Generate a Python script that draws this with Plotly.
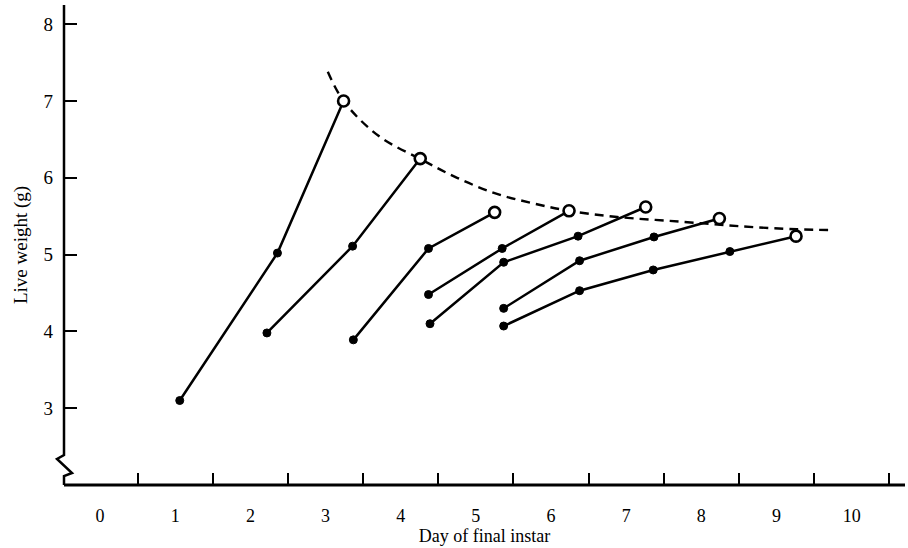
import plotly.graph_objects as go

# ---- data ----
s1_day = [1.06, 2.36, 3.24]
s1_wt = [3.10, 5.02, 7.00]
s2_day = [2.22, 3.36, 4.26]
s2_wt = [3.98, 5.11, 6.25]
s3_day = [3.37, 4.37, 5.25]
s3_wt = [3.89, 5.08, 5.55]
s4_day = [4.37, 5.35, 6.24]
s4_wt = [4.48, 5.08, 5.57]
s5_day = [4.39, 5.37, 6.36, 7.26]
s5_wt = [4.10, 4.90, 5.24, 5.62]
s6_day = [5.37, 6.38, 7.37, 8.24]
s6_wt = [4.30, 4.92, 5.23, 5.47]
s7_day = [5.37, 6.38, 7.36, 8.38, 9.26]
s7_wt = [4.07, 4.53, 4.80, 5.04, 5.24]

curve_day = [3.03, 3.24, 3.70, 4.27, 4.75, 5.25, 5.75, 6.24, 6.88, 7.71, 8.50, 9.27, 9.75]
curve_wt = [7.38, 7.00, 6.55, 6.24, 6.00, 5.80, 5.67, 5.57, 5.49, 5.43, 5.37, 5.33, 5.32]

x_tick_vals = list(range(0, 11))
x_tick_text = [str(v) for v in x_tick_vals]
y_tick_vals = [3, 4, 5, 6, 7, 8]
y_tick_text = [str(v) for v in y_tick_vals]

series = [(s1_day, s1_wt), (s2_day, s2_wt), (s3_day, s3_wt), (s4_day, s4_wt),
          (s5_day, s5_wt), (s6_day, s6_wt), (s7_day, s7_wt)]

FONT = "Liberation Serif"

fig = go.Figure()

fig.add_trace(go.Scatter(
    x=curve_day, y=curve_wt, mode="lines",
    line=dict(color="black", width=2.4, dash="9px,6px", shape="spline", smoothing=1.0),
    hoverinfo="skip", showlegend=False))

for d, w in series:
    fig.add_trace(go.Scatter(
        x=d, y=w, mode="lines",
        line=dict(color="black", width=2.5),
        showlegend=False))

filled_x, filled_y, open_x, open_y = [], [], [], []
for d, w in series:
    filled_x += d[:-1]
    filled_y += w[:-1]
    open_x.append(d[-1])
    open_y.append(w[-1])

fig.add_trace(go.Scatter(
    x=filled_x, y=filled_y, mode="markers",
    marker=dict(color="black", size=8, opacity=1, line=dict(color="black", width=1)),
    showlegend=False))
fig.add_trace(go.Scatter(
    x=open_x, y=open_y, mode="markers",
    marker=dict(color="white", size=11, opacity=1, line=dict(color="black", width=2.6)),
    showlegend=False))

px_x = 1 / 841.0
px_y = 1 / 480.0
shapes = [
    # x axis line
    dict(type="line", xref="paper", yref="paper", x0=0, x1=1, y0=0, y1=0,
         line=dict(color="black", width=3)),
    # y axis line with break
    dict(type="path", xref="paper", yref="paper",
         path=(f"M 0 1 L 0 {30*px_y} L {-7*px_x} {26*px_y} "
               f"L {8*px_x} {12*px_y} L 0 {9*px_y} L 0 0"),
         line=dict(color="black", width=2.5)),
]

fig.update_layout(
    width=908, height=548,
    margin=dict(l=64, r=3, t=5, b=63),
    paper_bgcolor="white", plot_bgcolor="white",
    font=dict(family=FONT, color="black", size=18),
    shapes=shapes,
    xaxis=dict(
        range=[-0.48, 10.71], showgrid=False, zeroline=False, showline=False,
        tickmode="array", tickvals=x_tick_vals, ticktext=x_tick_text,
        ticks="", ticklabelstandoff=18,
        tickfont=dict(family=FONT, size=18),
        minor=dict(tickmode="linear", tick0=0.5, dtick=1, ticks="inside",
                   ticklen=12, tickwidth=2, tickcolor="black", showgrid=False),
        title=dict(text="Day of final instar", font=dict(family=FONT, size=18), standoff=3),
    ),
    yaxis=dict(
        range=[2.0, 8.25], showgrid=False, zeroline=False, showline=False,
        tickmode="array", tickvals=y_tick_vals, ticktext=y_tick_text,
        ticks="inside", ticklen=13, tickwidth=2, tickcolor="black",
        ticklabelstandoff=10,
        tickfont=dict(family=FONT, size=19),
        title=dict(text="Live weight (g)", font=dict(family=FONT, size=19), standoff=10),
    ),
)

fig.write_html("out.html")
